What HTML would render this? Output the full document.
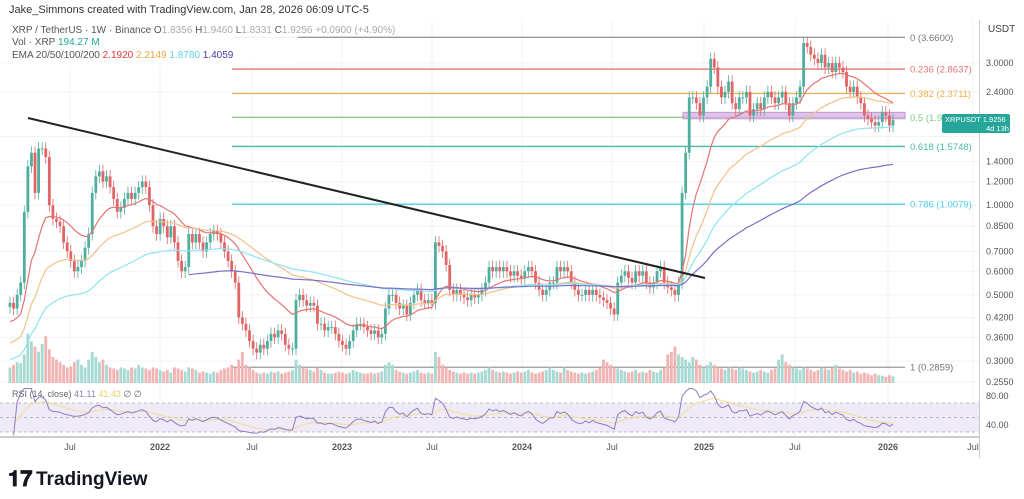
<!DOCTYPE html>
<html><head><meta charset="utf-8">
<style>
body{margin:0;background:#fff;width:1024px;height:499px;overflow:hidden;font-family:"Liberation Sans",sans-serif}
svg{display:block}
text{font-family:"Liberation Sans",sans-serif}
</style></head>
<body>
<svg id="c" width="1024" height="499" viewBox="0 0 1024 499">
<text x="9" y="13" font-size="11" fill="#333">Jake_Simmons created with TradingView.com, Jan 28, 2026 06:09 UTC-5</text>
<g id="grid"></g>
<g id="fib"></g>
<g id="vol"></g>
<g id="candles"></g>
<g id="ema"></g>
<line x1="28" y1="118" x2="705" y2="278" stroke="#222" stroke-width="2"/>
<g id="rsi"></g>
<g id="axis"></g>
<g id="taxis"></g>
<rect x="8" y="21" width="290" height="46" fill="#fff" opacity="0.85"/>
<text x="12" y="33" font-size="10" fill="#555">XRP / TetherUS · 1W · Binance  <tspan fill="#555">O</tspan><tspan fill="#aaa">1.8356</tspan> <tspan>H</tspan><tspan fill="#aaa">1.9460</tspan> <tspan>L</tspan><tspan fill="#aaa">1.8331</tspan> <tspan>C</tspan><tspan fill="#aaa">1.9256</tspan> <tspan fill="#aaa">+0.0900 (+4.90%)</tspan></text>
<text x="12" y="45" font-size="10" fill="#555">Vol · XRP  <tspan fill="#26a69a">194.27 M</tspan></text>
<text x="12" y="58" font-size="10" fill="#555">EMA 20/50/100/200  <tspan fill="#e53935">2.1920</tspan>  <tspan fill="#f2a33a">2.2149</tspan>  <tspan fill="#5ed4e8">1.8780</tspan>  <tspan fill="#3f3fa8">1.4059</tspan></text>
<text x="12" y="397" font-size="9" fill="#666">RSI (14, close)  <tspan fill="#8e7cc3">41.11</tspan>  <tspan fill="#e8d060">41.43</tspan>  ∅  ∅</text>
<g>
<text x="8" y="486" font-size="22" font-weight="bold" fill="#131722">𝟏𝟕</text>
<text x="36" y="485" font-size="19" font-weight="bold" fill="#131722">TradingView</text>
</g>
</svg>
<script>
const closes=[0.47,0.45,0.5,0.55,0.95,1.35,1.5,1.1,1.55,1.55,1.45,1.0,0.9,0.88,0.85,0.75,0.7,0.65,0.6,0.62,0.65,0.72,0.8,1.1,1.25,1.3,1.2,1.25,1.15,1.05,0.95,0.98,1.05,1.1,1.05,1.1,1.15,1.2,1.15,1.0,0.85,0.8,0.9,0.85,0.78,0.85,0.75,0.65,0.6,0.62,0.8,0.75,0.8,0.75,0.7,0.75,0.8,0.82,0.8,0.75,0.7,0.65,0.6,0.55,0.42,0.4,0.38,0.35,0.33,0.32,0.34,0.33,0.35,0.37,0.36,0.38,0.37,0.34,0.33,0.33,0.48,0.5,0.48,0.46,0.47,0.46,0.4,0.4,0.38,0.39,0.39,0.37,0.35,0.34,0.33,0.35,0.38,0.4,0.4,0.39,0.38,0.37,0.38,0.36,0.37,0.45,0.5,0.5,0.47,0.45,0.46,0.43,0.47,0.5,0.52,0.48,0.47,0.48,0.47,0.75,0.73,0.7,0.63,0.52,0.5,0.52,0.5,0.49,0.48,0.5,0.49,0.5,0.52,0.55,0.62,0.6,0.62,0.6,0.62,0.6,0.58,0.6,0.58,0.57,0.6,0.62,0.6,0.55,0.52,0.5,0.52,0.55,0.55,0.62,0.6,0.62,0.6,0.55,0.52,0.5,0.5,0.52,0.5,0.52,0.5,0.49,0.48,0.47,0.45,0.43,0.55,0.58,0.6,0.57,0.55,0.6,0.58,0.6,0.55,0.53,0.55,0.6,0.62,0.55,0.53,0.52,0.5,0.55,1.1,1.5,2.3,2.3,2.2,2.0,2.3,2.5,3.1,2.9,2.5,2.3,2.4,2.6,2.2,2.1,2.3,2.3,2.4,2.0,2.1,2.2,2.1,2.3,2.4,2.3,2.2,2.3,2.4,2.2,2.0,2.2,2.3,2.5,3.5,3.4,3.2,3.1,3.0,3.2,2.9,3.0,2.8,3.0,2.9,2.8,2.5,2.4,2.5,2.3,2.2,2.0,1.95,1.9,1.85,1.9,2.05,2.0,1.85,1.93];
const volumes=[30,35,40,38,55,95,80,70,60,75,90,65,50,45,40,35,30,32,40,45,35,30,45,60,50,40,45,35,30,28,25,30,28,25,30,28,35,30,28,25,30,28,25,22,25,20,30,28,25,22,30,28,25,20,22,20,18,22,20,25,28,30,35,30,45,60,35,30,25,20,18,20,18,22,20,22,18,20,22,25,45,35,30,28,25,22,30,25,20,18,18,20,22,20,18,20,25,22,20,18,18,20,18,20,22,35,40,35,25,22,20,18,20,22,25,20,18,20,18,60,50,35,30,25,22,20,18,20,18,20,18,20,22,25,30,25,22,20,22,20,18,20,22,20,22,25,20,18,20,22,25,30,25,22,20,30,25,22,20,18,20,18,20,22,25,30,45,40,35,30,28,25,22,20,22,25,20,22,20,25,22,20,25,30,55,60,70,55,50,45,40,50,45,35,30,35,40,35,30,28,25,30,28,25,30,28,25,22,20,22,25,22,20,25,28,45,55,40,35,30,28,25,30,28,25,22,25,30,28,25,30,35,28,25,22,25,20,22,18,20,18,15,18,15,14,12,15,13];
const priceTicks=[3.0,2.4,1.7,1.4,1.2,1.0,0.85,0.7,0.6,0.5,0.42,0.36,0.3,0.255];
const fibLevels=[0,0.236,0.382,0.5,0.618,0.786,1];
const fibPrices=[3.66,2.8637,2.3711,1.973,1.5748,1.0079,0.2859];
const fibColors=["#999","#e57373","#f2b04a","#81c784","#4db6ac","#4dd0e1","#999"];
const timeLabels=["Jul","2022","Jul","2023","Jul","2024","Jul","2025","Jul","2026","Jul"];

const NS="http://www.w3.org/2000/svg";
function mk(tag,attrs,parent){const e=document.createElementNS(NS,tag);for(const k in attrs)e.setAttribute(k,attrs[k]);document.getElementById(parent).appendChild(e);return e;}
const A=205.2,B=129.4;
function y(p){return A-B*Math.log(p);}
const n=closes.length;
const X0=10,X1=893;
const STEP=(X1-X0)/(n-1);
function x(i){return X0+i*STEP;}
priceTicks.forEach(p=>{const l=mk('line',{x1:0,x2:979,y1:y(p),y2:y(p),stroke:'#f0f3f7'},'grid');});
const tX=[70,160,252,342,432,522,612,704,795,888,973];
tX.forEach(t=>{const l=mk('line',{x1:t,x2:t,y1:20,y2:437,stroke:'#f0f3f7'},'grid');});
fibPrices.forEach((p,k)=>{const l=mk('line',{x1:232,x2:905,y1:y(p),y2:y(p),stroke:fibColors[k],'stroke-width':1.3},'fib');
const t=mk('text',{x:910,y:y(p)+3.5,'font-size':9.5,fill:fibColors[k]=="#999"?"#777":fibColors[k]},'fib');t.textContent=fibLevels[k]+' ('+p.toFixed(4)+')';});
const box=mk('rect',{x:683,y:y(2.05),width:222,height:y(1.95)-y(2.05),fill:'#d9b3e6',stroke:'#b07cc6','stroke-width':1,opacity:0.8},'fib');

const vmax=100;
for(let i=0;i<Math.min(n,volumes.length);i++){const up=i==0||closes[i]>=closes[i-1];const h=volumes[i]/vmax*52;
const r=mk('rect',{x:x(i)-1.4,y:383-h,width:2.8,height:h,fill:up?'#a6d9d2':'#f2b3b3'},'vol');}
for(let i=0;i<n;i++){const o=i==0?closes[0]*0.97:closes[i-1],c=closes[i];const up=c>=o;const col=up?'#4fae9e':'#e06666';
const hi=Math.max(o,c)*1.05,lo=Math.min(o,c)*0.95;
const w=mk('line',{x1:x(i),x2:x(i),y1:y(hi),y2:y(lo),stroke:col,'stroke-width':0.8},'candles');
const b=mk('rect',{x:x(i)-1.4,y:y(Math.max(o,c)),width:2.8,height:Math.max(1,Math.abs(y(o)-y(c))),fill:col},'candles');}
function ema(len,seed){const a=2/(len+1);let v=seed;return closes.map(c=>v=v+a*(c-v));}
[[20,0.4,'#e57373',0],[50,0.34,'#f2c08a',0],[100,0.3,'#8fe3ee',0],[200,0.35,'#7b6fc7',50]].forEach(([len,seed,col,st])=>{const e=ema(len,seed);let d='';for(let i=st;i<n;i++)d+=(i==st?'M':'L')+x(i).toFixed(1)+','+y(e[i]).toFixed(1);
const p=mk('path',{d:d,fill:'none',stroke:col,'stroke-width':1.2},'ema');});
function ry(v){return 403+(70-v)*0.725;}
const band=mk('rect',{x:0,y:ry(70),width:979,height:ry(30)-ry(70),fill:'#efeaf8'},'rsi');
[70,50,30].forEach(v=>{const l=mk('line',{x1:0,x2:979,y1:ry(v),y2:ry(v),stroke:'#bbb','stroke-dasharray':'3,3'},'rsi');});
let ag=0,al=0;const rsi=[];
for(let i=1;i<n;i++){const ch=closes[i]-closes[i-1];const g=Math.max(ch,0),l=Math.max(-ch,0);
if(i<=14){ag+=g/14;al+=l/14;}else{ag=(ag*13+g)/14;al=(al*13+l)/14;}rsi[i]=al==0?100:100-100/(1+ag/al);}
let d='',ds='',ma=50;for(let i=1;i<n;i++){ma=ma+(rsi[i]-ma)/7;d+=(i==1?'M':'L')+x(i).toFixed(1)+','+ry(Math.max(25,Math.min(90,rsi[i]))).toFixed(1);ds+=(i==1?'M':'L')+x(i).toFixed(1)+','+ry(ma).toFixed(1);}
const sm=mk('path',{d:ds,fill:'none',stroke:'#f0e0a0','stroke-width':1.2},'rsi');
const rl=mk('path',{d:d,fill:'none',stroke:'#8e7cc3','stroke-width':1},'rsi');
const sep=mk('line',{x1:0,x2:979,y1:437,y2:437,stroke:'#bbb','stroke-width':1.5},'rsi');
const al2=mk('line',{x1:979.5,x2:979.5,y1:20,y2:458,stroke:'#ccc'},'axis');
const u=mk('text',{x:988,y:32,'font-size':10,fill:'#444'},'axis');u.textContent='USDT';
priceTicks.forEach(p=>{if(p==1.7)return;const t=mk('text',{x:986,y:y(p)+3,'font-size':9,fill:'#555'},'axis');t.textContent=p.toFixed(4);});
[[80,'80.00'],[40,'40.00']].forEach(([v,s])=>{const t=mk('text',{x:986,y:ry(v)+3,'font-size':9,fill:'#555'},'axis');t.textContent=s;});
const tag=mk('rect',{x:942,y:114,width:68,height:19,rx:2,fill:'#26a69a'},'axis');
const t1=mk('text',{x:945,y:122,'font-size':7.5,fill:'#fff'},'axis');t1.textContent='XRPUSDT     1.9256';
const t2=mk('text',{x:986,y:131,'font-size':7.5,fill:'#fff'},'axis');t2.textContent='4d 13h';
timeLabels.forEach((s,k)=>{const t=mk('text',{x:tX[k],y:450,'font-size':9,fill:'#555','text-anchor':'middle','font-weight':s.length==4?'bold':'normal'},'taxis');t.textContent=s;});
</script>
</body></html>
